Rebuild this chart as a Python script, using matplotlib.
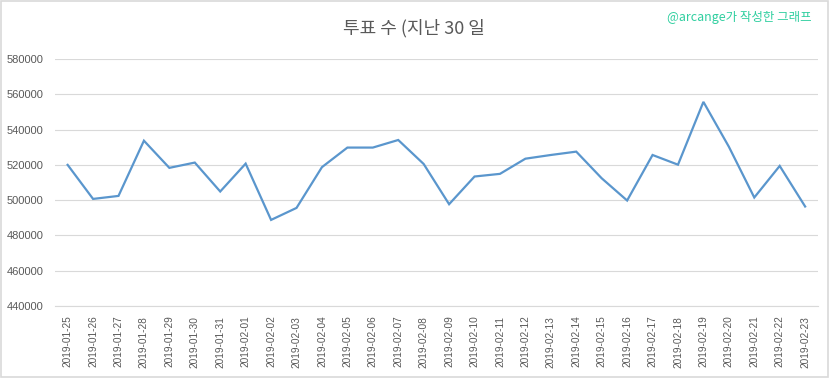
import numpy as np
import matplotlib.pyplot as plt
from matplotlib.patches import Rectangle

# 날짜별 투표 수
dates = ['2019-01-25', '2019-01-26', '2019-01-27', '2019-01-28', '2019-01-29',
         '2019-01-30', '2019-01-31', '2019-02-01', '2019-02-02', '2019-02-03',
         '2019-02-04', '2019-02-05', '2019-02-06', '2019-02-07', '2019-02-08',
         '2019-02-09', '2019-02-10', '2019-02-11', '2019-02-12', '2019-02-13',
         '2019-02-14', '2019-02-15', '2019-02-16', '2019-02-17', '2019-02-18',
         '2019-02-19', '2019-02-20', '2019-02-21', '2019-02-22', '2019-02-23']
votes = [520000, 500700, 502400, 533700, 518300, 521300, 504900, 520700, 488800, 495600,
         518700, 529800, 529800, 534100, 520500, 497700, 513400, 514900, 523500, 525600,
         527500, 512400, 499800, 525600, 520100, 555700, 530300, 501500, 519400, 496400]
y_ticks = [440000, 460000, 480000, 500000, 520000, 540000, 560000, 580000]

title = '투표 수 (지난 30 일'
credit = '@arcange가 작성한 그래프'

plt.rcParams['font.family'] = ['Liberation Sans', 'Noto Sans CJK KR', 'DejaVu Sans']

fig = plt.figure(figsize=(8.32, 3.79), dpi=100)
ax = fig.add_axes([0.066, 0.1926, 0.917, 0.6517])

x = np.arange(len(dates))
ax.plot(x, votes, color='#5A96CD', linewidth=1.6, solid_joinstyle='miter')

ax.set_xlim(-0.5, len(dates) - 0.5)
ax.set_ylim(440000, 580000)
ax.set_yticks(y_ticks)
ax.set_yticklabels([str(v) for v in y_ticks])
ax.set_xticks(x)
ax.set_xticklabels(dates, rotation=90)

ax.grid(axis='y', color='#D9D9D9', linewidth=0.8)
ax.set_axisbelow(True)
for s in ['top', 'right', 'left']:
    ax.spines[s].set_visible(False)
ax.spines['bottom'].set_color('#D9D9D9')
ax.spines['bottom'].set_linewidth(0.8)
ax.tick_params(axis='both', length=0, colors='#595959')
ax.tick_params(axis='y', labelsize=8, pad=8)
ax.tick_params(axis='x', labelsize=7.3, pad=7)

fig.text(0.497, 0.926, title, ha='center', va='center', fontsize=13,
         color='#595959', family=['Noto Sans CJK KR', 'DejaVu Sans'])
fig.text(0.975, 0.955, credit, ha='right', va='center', fontsize=9,
         color='#30CFA0', family=['Noto Sans CJK KR', 'DejaVu Sans'])

# 차트 테두리
fig.patches.append(Rectangle((0.001, 0.005), 0.994, 0.993, transform=fig.transFigure,
                             fill=False, edgecolor='#D9D9D9', linewidth=1.2))

fig.savefig('out.png', dpi=100)
